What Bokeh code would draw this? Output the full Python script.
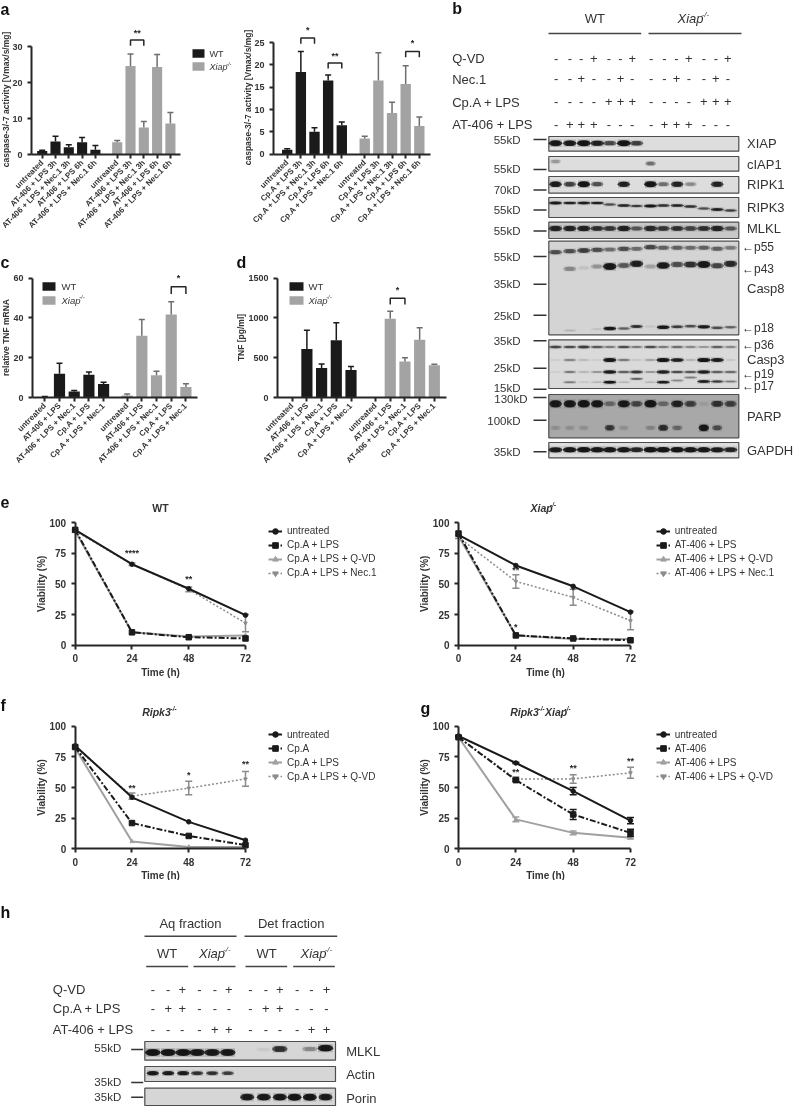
from bokeh.plotting import figure
from bokeh.layouts import column, row
from bokeh.models import Range1d, LinearAxis, FixedTicker, Label, Legend, LegendItem
from bokeh.core.properties import value
from bokeh.embed import file_html
from bokeh.resources import INLINE
import math

# ---------- bar data ----------
a1_labels = ["untreated", "AT-406 + LPS 3h", "AT-406 + LPS + Nec.1 3h", "AT-406 + LPS 6h", "AT-406 + LPS + Nec.1 6h"]
a1_wt = [1, 3.6, 2, 3.4, 1.3]
a1_wt_top = [1.2, 5.1, 2.7, 4.7, 2.5]
a1_xi = [3.4, 24.6, 7.5, 24.3, 8.6]
a1_xi_top = [3.9, 27.9, 9.2, 27.8, 11.7]

a2_labels = ["untreated", "Cp.A + LPS 3h", "Cp.A + LPS + Nec.1 3h", "Cp.A + LPS 6h", "Cp.A + LPS + Nec.1 6h"]
a2_wt = [1, 18.4, 5, 16.5, 6.5]
a2_wt_top = [1.2, 23, 5.9, 17.7, 7.2]
a2_xi = [3.5, 16.5, 9.2, 15.7, 6.3]
a2_xi_top = [4, 22.7, 11.6, 19.8, 8.3]

cd_labels = ["untreated", "AT-406 + LPS", "AT-406 + LPS + Nec.1", "Cp.A + LPS", "Cp.A + LPS + Nec.1"]
c_wt = [0.3, 12, 3, 11.4, 6.8]
c_wt_top = [0.5, 17.2, 3.5, 12.8, 7.7]
c_xi = [1, 31, 11.2, 41.7, 5.3]
c_xi_top = [1.8, 39.2, 13.2, 48.2, 6.9]
d_wt = [0, 610, 370, 720, 345]
d_wt_top = [0, 845, 420, 940, 390]
d_xi = [0, 990, 453, 725, 406]
d_xi_top = [0, 1085, 499, 876, 418]

# ---------- viability data ----------
hours = [0, 24, 48, 72]
e1_untreated = [94, 66, 46, 24.5]
e1_cpa = [94, 10.5, 6.5, 5.5]
e1_qvd = [93, 10.5, 7, 8]
e1_nec = [93, 66, 45.5, 18]
e1_nec_err = [1, 1, 2, 7]
e2_untreated = [90, 65, 48, 27]
e2_at = [91, 8, 5.5, 4]
e2_qvd = [89, 8, 5, 5]
e2_nec = [88, 52, 39, 20]
e2_nec_err = [1, 5.5, 6.5, 7.5]
f_untreated = [84, 42, 22, 7]
f_cpa = [83, 21, 10.5, 3]
f_lps = [82, 6, 1.5, 1.5]
f_qvd = [83, 43, 49.5, 57]
f_qvd_err = [1, 2.5, 5.5, 6]
g_untreated = [92, 70, 47, 23]
g_untreated_err = [0, 0.5, 3, 2.5]
g_at = [91, 56, 28, 13]
g_at_err = [0, 1, 4, 3]
g_lps = [91, 24, 13, 9]
g_lps_err = [0, 2, 1.5, 1]
g_qvd = [91, 57, 57, 62]
g_qvd_err = [0, 1.5, 3.5, 4.5]

# ---------- blot band intensities (one per lane) ----------
xiap_b = [.95, .9, 1, .85, .55, 1, .6, 0, 0, 0, 0, 0, 0, 0]
ciap_b = [.2, 0, 0, 0, 0, 0, 0, .35, 0, 0, 0, 0, 0, 0]
ripk1_b = [.9, .6, 1, .5, 0, .85, 0, 1, .35, .8, .25, 0, .8, 0]
ripk3_b = [.9, .8, .85, .8, .5, .8, .6, .95, .7, .8, .7, .5, .85, .6]
mlkl_b = [.8, .8, .85, .7, .65, .85, .45, .75, .65, .7, .55, .7, .8, .45]
p55_b = [.5, .5, .6, .5, .35, .5, .35, .55, .4, .4, .35, .4, .4, .3]
p43_b = [0, .25, .05, .2, .95, .45, .85, .15, .9, .5, .7, .95, .55, .75]
p18_b = [0, .1, 0, .05, .95, .4, .7, .05, .95, .6, .5, .9, .5, .4]
p36_b = [.55, .5, .6, .45, .3, .5, .3, .5, .3, .35, .25, .2, .4, .25]
c3_b = [.03, .25, .08, .03, .95, .3, .05, .15, 1, .85, .1, 1, .9, .05]
p19_b = [.03, .3, .1, .2, .9, .4, .65, .2, .85, .5, .45, .85, .4, .35]
p17_b = [0, .3, .05, .1, .95, .1, .4, .1, .85, .25, .3, .85, .6, .3]
parp_b = [.95, .95, 1, .95, .3, .9, .5, 1, .3, .8, .55, .05, .65, .55]
parp2_b = [.1, .1, .1, 0, .6, .1, 0, .15, .7, .3, 0, .95, .45, 0]
gapdh_b = [.9, .95, 1, .95, .95, .95, .8, 1, 1, 1, .95, .95, .9, .8]

qvd_signs = "---+--+---+--+"
nec_signs = "--+--+---+--+-"
cpa_signs = "----+++----+++"
at_signs = "-+++----+++---"

h_mlkl = [1, 1, 1, .95, .95, .95, 0, .03, .7, 0, .25, .95]
h_actin = [.95, .9, .9, .7, .7, .6, 0, 0, 0, 0, 0, 0]
h_porin = [0, 0, 0, 0, 0, 0, .9, .95, .95, 1, 1, .9]
h_qvd_signs = "--+--+--+--+"
h_cpa_signs = "-++----++---"
h_at_signs = "----++----++"

# ---------- style ----------
FONT = "Liberation Sans"
DARK = "#262626"
TXT = "#333333"
GREY = "#a3a3a3"
WHISK_G = "#6e6e6e"
DOT_G = "#8c8c8c"


def span(px0, v0, px1, v1, lo, hi):
    s = (v1 - v0) / (px1 - px0)
    return Range1d(v0 + (lo - px0) * s, v0 + (hi - px0) * s)


def fig(W, H, xr, yr):
    p = figure(width=W, height=H, x_range=xr, y_range=yr, x_axis_type=None, y_axis_type=None,
               toolbar_location=None, output_backend="svg", min_border=0, outline_line_color=None)
    p.grid.visible = False
    return p


def txt(p, box, x, y, s, size=9, style="normal", align="left", color=TXT, angle=0, baseline="middle"):
    X0, Y0, W, H = box
    p.add_layout(Label(x=x - X0, y=Y0 + H - y, x_units="screen", y_units="screen", text=s,
                       text_font=FONT, text_font_size=f"{size}px", text_font_style=style,
                       text_align=align, text_baseline=baseline, text_color=color,
                       angle=angle))


def gene(p, box, x, y, parts, size=9, style="italic", color=TXT):
    """italic gene name with a small superscript; x is the left edge"""
    cw = 0.53 * size
    for name in parts:
        txt(p, box, x, y, name, size, style, color=color)
        x += cw * len(name) * (1.02 if name.startswith("Ripk") else 0.88)
        txt(p, box, x, y - size * 0.32, "-/-", size * 0.6, style, color=color)
        x += size * 0.6 * 1.02


def style_axis(ax, size):
    ax.axis_line_color = DARK
    ax.axis_line_width = 2
    ax.major_tick_line_color = DARK
    ax.major_tick_line_width = 2
    ax.major_tick_in = 0
    ax.major_tick_out = 4
    ax.minor_tick_line_color = None
    ax.major_label_text_font = FONT
    ax.major_label_text_font_style = "bold"
    ax.major_label_text_font_size = f"{size}px"
    ax.major_label_text_color = TXT


def bar_panel(box, ax_l, ax_r, first, step, gap, ytop_px, y0_px, ymax, yticks, labels,
              wt, wt_top, xi, xi_top, brackets, ylabel, ylabel_x, ylabel_y):
    X0, Y0, W, H = box
    xlo = (ax_l - first) / step
    xhi = (ax_r - first) / step
    p = fig(W, H, span(first, 0, first + step, 1, X0, X0 + W), span(y0_px, 0, ytop_px, ymax, Y0 + H, Y0))
    pos = list(range(5))
    pos2 = [round(gap + i, 2) for i in range(5)]
    p.vbar(x=pos, top=wt, width=0.76, fill_color="#1a1a1a", line_color=None)
    p.vbar(x=pos2, top=xi, width=0.76, fill_color=GREY, line_color=None)
    for xs, v, t, c in ((pos, wt, wt_top, "#1a1a1a"), (pos2, xi, xi_top, WHISK_G)):
        xe = [a for a, b, d in zip(xs, v, t) if d > b]
        p.segment(x0=xe, x1=xe, y0=[b for b, d in zip(v, t) if d > b], y1=[d for b, d in zip(v, t) if d > b],
                  line_color=c, line_width=1.5)
        p.scatter(x=xe, y=[d for b, d in zip(v, t) if d > b], marker="dash", size=6, line_color=c, line_width=1.5)
    allpos = pos + pos2
    for i, j, top, leg, star, sy in brackets:
        p.line(x=[allpos[i], allpos[i], allpos[j], allpos[j]], y=[leg, top, top, leg], line_color=DARK, line_width=1.5)
        p.text(x=[(allpos[i] + allpos[j]) / 2], y=[sy], text=[star], text_font=value(FONT), text_font_size="9px",
               text_font_style="bold", text_align="center", text_baseline="middle", text_color=DARK)
    ya = LinearAxis(fixed_location=xlo, bounds=(0, ymax), ticker=FixedTicker(ticks=yticks))
    style_axis(ya, 9)
    p.add_layout(ya, "left")
    xa = LinearAxis(fixed_location=0, bounds=(xlo, xhi), ticker=FixedTicker(ticks=allpos),
                    major_label_overrides={float(k): l for k, l in zip(allpos, labels + labels)},
                    major_label_orientation=math.pi / 4)
    style_axis(xa, 8)
    xa.major_label_standoff = 3
    p.add_layout(xa, "below")
    txt(p, box, ylabel_x, ylabel_y, ylabel, 8.5, "bold", "center", angle=math.pi / 2)
    return p


def bar_legend(p, box, x0, x1, y1, y2, h, tx, size=9):
    xm = (x0 + x1) / 2
    xr = p.x_range
    yr = p.y_range
    sx = (xr.end - xr.start) / box[2]
    sy = (yr.end - yr.start) / box[3]
    for y, c in ((y1, "#1a1a1a"), (y2, GREY)):
        dx = xr.start + (xm - box[0]) * sx
        dy = yr.end - (y - box[1]) * sy
        p.rect(x=[dx], y=[dy], width=(x1 - x0) * sx, height=h * abs(sy), fill_color=c, line_color=None)
    txt(p, box, tx, y1, "WT", size)
    gene(p, box, tx, y2, ["Xiap"], size)


BOX_A1 = (0, 0, 235, 230)
a1 = bar_panel(BOX_A1, 31, 180, 41.7, 13.3, 5.64, 46, 154, 30, [0, 10, 20, 30], a1_labels,
               a1_wt, a1_wt_top, a1_xi, a1_xi_top, [(6, 7, 31.8, 30.2, "**", 33.7)],
               "caspase-3/-7 activity [Vmax/s/mg]", 5, 99)
bar_legend(a1, BOX_A1, 192, 204, 53, 66, 8.5, 209)
txt(a1, BOX_A1, 0, 9, "a", 16, "bold", color="#111111")

BOX_A2 = (235, 0, 215, 230)
a2 = bar_panel(BOX_A2, 273, 430, 286.7, 13.65, 5.68, 42, 153.7, 25, [0, 5, 10, 15, 20, 25], a2_labels,
               a2_wt, a2_wt_top, a2_xi, a2_xi_top,
               [(1, 2, 26, 24.7, "*", 27.8), (3, 4, 20.4, 19.2, "**", 22), (8, 9, 23, 21.7, "*", 24.8)],
               "caspase-3/-7 activity [Vmax/s/mg]", 247, 97)

BOX_C = (0, 230, 236, 260)
c = bar_panel(BOX_C, 32, 197, 44.3, 14.7, 5.6, 277.7, 397, 60, [0, 20, 40, 60], cd_labels,
              c_wt, c_wt_top, c_xi, c_xi_top, [(8, 9, 55.7, 52, "*", 60)],
              "relative TNF mRNA", 5, 337)
bar_legend(c, BOX_C, 42, 55, 286, 300, 8.5, 61, 9.5)
txt(c, BOX_C, 0, 262, "c", 16, "bold", color="#111111")

BOX_D = (236, 230, 214, 260)
d = bar_panel(BOX_D, 277, 446, 291.7, 14.7, 5.67, 277.7, 397, 1500, [0, 500, 1000, 1500], cd_labels,
              d_wt, d_wt_top, d_xi, d_xi_top, [(6, 7, 1249, 1170, "*", 1350)],
              "TNF [pg/ml]", 240.7, 337)
bar_legend(d, BOX_D, 289, 303, 286, 300, 8.5, 308, 9.5)
txt(d, BOX_D, 236, 262, "d", 16, "bold", color="#111111")


# ---------- line panels ----------
def line_panel(box, ax_x, ax_x72, ytop, y0, series, stars, ylabel_x, xlabel_x, xlabel_y, legend_x):
    X0, Y0, W, H = box
    p = fig(W, H, span(ax_x, 0, ax_x72, 72, X0, X0 + W), span(y0, 0, ytop, 100, Y0 + H, Y0))
    items = []
    for name, vals, err, color, width, dash, marker, msize in reversed(series):
        ln = p.line(x=hours, y=vals, line_color=color, line_width=width, line_dash=dash)
        mk = p.scatter(x=hours, y=vals, marker=marker, size=msize, fill_color=color, line_color=color)
        if err:
            lo = [v - e for v, e in zip(vals, err)]
            hi = [v + e for v, e in zip(vals, err)]
            p.segment(x0=hours, x1=hours, y0=lo, y1=hi, line_color=color, line_width=1.5)
            p.scatter(x=hours + hours, y=lo + hi, marker="dash", size=7, line_color=color, line_width=1.5)
        items.insert(0, LegendItem(label=name, renderers=[ln, mk]))
    for sx, sy, s in stars:
        p.text(x=[sx], y=[sy], text=[s], text_font=value(FONT), text_font_size="9px", text_font_style="bold",
               text_align="center", text_baseline="middle", text_color=DARK)
    ya = LinearAxis(fixed_location=0, bounds=(0, 100), ticker=FixedTicker(ticks=[0, 25, 50, 75, 100]))
    xa = LinearAxis(fixed_location=0, bounds=(0, 72), ticker=FixedTicker(ticks=hours))
    for ax in (ya, xa):
        style_axis(ax, 10)
    p.add_layout(ya, "left")
    p.add_layout(xa, "below")
    txt(p, box, ylabel_x, (ytop + y0) / 2, "Viability (%)", 10, "bold", "center", angle=math.pi / 2)
    txt(p, box, xlabel_x, xlabel_y, "Time (h)", 10, "bold", "center")
    leg_top = ytop + 1.5
    leg = Legend(items=items, location=(legend_x - X0, Y0 + H - leg_top - 8 * 14 / 2 - 0),
                 border_line_color=None, background_fill_alpha=0, padding=0, margin=0, spacing=0,
                 glyph_width=14, glyph_height=14, label_height=14, label_standoff=5,
                 label_text_font=FONT, label_text_font_size="10px", label_text_color=TXT)
    p.add_layout(leg, "center")
    return p


BLACK = "#1a1a1a"
LG = "#a0a0a0"
def series(names, vals, errs):
    sty = [(BLACK, 2, "solid", "circle", 4.5), (BLACK, 2, "6 2 2 2", "square", 5.5),
           (LG, 2, "solid", "triangle", 4), (DOT_G, 1.5, "2 2", "inverted_triangle", 3.5)]
    return [(n, v, e) + s for n, v, e, s in zip(names, vals, errs, sty)]


BOX_E1 = (0, 490, 393, 190)
e1 = line_panel(BOX_E1, 74.7, 245, 522, 644.7,
                series(["untreated", "Cp.A + LPS", "Cp.A + LPS + Q-VD", "Cp.A + LPS + Nec.1"],
                       [e1_untreated, e1_cpa, e1_qvd, e1_nec], [None, None, None, e1_nec_err]),
                [(24, 75, "****"), (48, 54, "**")], 41, 160, 672, 268)
txt(e1, BOX_E1, 160, 507, "WT", 10.5, "bold", "center")
txt(e1, BOX_E1, 0, 501.7, "e", 16, "bold", color="#111111")

BOX_E2 = (393, 490, 400, 190)
e2 = line_panel(BOX_E2, 458, 630, 522, 644.7,
                series(["untreated", "AT-406 + LPS", "AT-406 + LPS + Q-VD", "AT-406 + LPS + Nec.1"],
                       [e2_untreated, e2_at, e2_qvd, e2_nec], [None, None, None, e2_nec_err]),
                [(24, 61, "**"), (24, 14.5, "*"), (48, 45, "*")], 424, 545, 672, 655.7)
gene(e2, BOX_E2, 530, 507, ["Xiap"], 10.5, "bold italic")

BOX_F = (0, 680, 393, 200)
f = line_panel(BOX_F, 74.7, 245, 725.7, 848.3,
               series(["untreated", "Cp.A", "Cp.A + LPS", "Cp.A + LPS + Q-VD"],
                      [f_untreated, f_cpa, f_lps, f_qvd], [None, None, None, f_qvd_err]),
               [(24, 50, "**"), (48, 60, "*"), (72, 69, "**")], 41, 160, 875, 268)
gene(f, BOX_F, 141.7, 711, ["Ripk3"], 10.5, "bold italic")
txt(f, BOX_F, 0, 705, "f", 16, "bold", color="#111111")

BOX_G = (393, 680, 400, 200)
g = line_panel(BOX_G, 458, 630, 725.7, 848.3,
               series(["untreated", "AT-406", "AT-406 + LPS", "AT-406 + LPS + Q-VD"],
                      [g_untreated, g_at, g_lps, g_qvd], [g_untreated_err, g_at_err, g_lps_err, g_qvd_err]),
               [(24, 63, "**"), (48, 66, "**"), (72, 72, "**")], 424, 545, 875, 655.7)
gene(g, BOX_G, 509.7, 711, ["Ripk3", "Xiap"], 10.5, "bold italic")
txt(g, BOX_G, 420, 708, "g", 16, "bold", color="#111111")


# ---------- blots ----------
def blot_fig(box):
    X0, Y0, W, H = box
    return fig(W, H, Range1d(X0, X0 + W), Range1d(Y0 + H, Y0))


def blot_box(p, l, r, t, b, bg="#d9d9d9"):
    p.quad(left=[l], right=[r], top=[t], bottom=[b], fill_color=bg, line_color="#4d4d4d", line_width=1.2)


def bands(p, lanes, ys, vals, w=10.5, h=4.5):
    if not isinstance(ys, (list, tuple)):
        ys = [ys] * len(lanes)
    xs = [x for x, v in zip(lanes, vals) if v > 0]
    yy = [y for y, v in zip(ys, vals) if v > 0]
    vv = [v for v in vals if v > 0]
    hh = [h * (0.55 + 0.45 * v) for v in vv]
    p.rect(x=xs, y=yy, width=[w + 1.5] * len(xs), height=[k + 1.5 for k in hh],
           fill_color="#333333", fill_alpha=[0.25 * v for v in vv], line_color=None)
    p.ellipse(x=xs, y=yy, width=[w + 2.5] * len(xs), height=hh,
              fill_color="#111111", fill_alpha=[v * 0.9 for v in vv], line_color=None)
    p.rect(x=xs, y=yy, width=[w * 0.75] * len(xs), height=[k * 0.8 for k in hh],
           fill_color="#111111", fill_alpha=[v * 0.75 for v in vv], line_color=None)


def signs(p, box, xs, y, pattern, size=13):
    for x, s in zip(xs, pattern):
        txt(p, box, x, y, s, size, "normal", "center", color=TXT)


BOX_B = (450, 0, 343, 490)
b = blot_fig(BOX_B)
L, R = 548.3, 738.3
lanes_b = [555, 569.3, 583.3, 596.7, 609.3, 623.3, 636, 650, 662.7, 676.7, 690, 703.3, 716.7, 730]
sign_x = [555.7, 569.3, 580.7, 593.3, 608.3, 620, 631.7, 650.7, 664, 676, 688.3, 703.3, 715.3, 727.3]

txt(b, BOX_B, 451.7, 8, "b", 16, "bold", color="#111111")
txt(b, BOX_B, 594.3, 18, "WT", 13, align="center")
gene(b, BOX_B, 677, 18, ["Xiap"], 13)
b.segment(x0=[548, 648], x1=[640.7, 741], y0=[33, 33], y1=[33, 33], line_color="#444444", line_width=1.5)
for lab, y, pat in (("Q-VD", 58, qvd_signs), ("Nec.1", 78.5, nec_signs),
                    ("Cp.A + LPS", 101.7, cpa_signs), ("AT-406 + LPS", 124, at_signs)):
    txt(b, BOX_B, 451.7, y, lab, 13)
    signs(b, BOX_B, sign_x, y - 0.5, pat)

for t_, b_, bg in ((136, 150.7, "#dddddd"), (156, 170.7, "#dddddd"), (176, 192.7, "#dddddd"),
                   (197, 217, "#d5d5d5"), (221.7, 238, "#c8c8c8"), (240.7, 334.3, "#d4d4d4"),
                   (339.3, 388, "#dadada"), (394, 437.3, "#a8a8a8"), (442, 457.3, "#dddddd")):
    blot_box(b, L, R, t_, b_, bg)

bands(b, lanes_b, 142.7, xiap_b, 11, 6)
bands(b, lanes_b, [161] * 7 + [163] * 7, ciap_b, 8, 6)
bands(b, lanes_b, 183.7, ripk1_b, 10, 6)
bands(b, lanes_b, [202.5, 202.5, 202.5, 202.5, 204, 205, 205.5, 205.5, 205, 205, 206, 208, 209, 210], ripk3_b, 11, 3)
bands(b, lanes_b, 228, mlkl_b, 11, 6)
bands(b, lanes_b, [251.7, 250.7, 250, 249.3, 249, 248.3, 248.3, 246.7, 247.3, 247.3, 247.3, 247.3, 248.3, 247.3], p55_b, 11, 6)
bands(b, lanes_b, [268.3, 268.3, 267.3, 266, 266, 265, 263.3, 266, 265, 264, 264, 264, 265.3, 263.3], p43_b, 11, 7)
bands(b, lanes_b, [330, 330, 329, 328.5, 328, 328, 326, 326, 326.7, 326.3, 325.7, 326.3, 327.3, 326.7], p18_b, 10.5, 3.5)
bands(b, lanes_b, 346.5, p36_b, 11, 3.5)
bands(b, lanes_b, 359.5, c3_b, 11, 4)
bands(b, lanes_b, 371.5, p19_b, 11, 3.5)
bands(b, lanes_b, [381.7] * 6 + [378.3, 381.7, 381.7, 380, 377, 381, 381, 381], p17_b, 11, 3)
bands(b, lanes_b, 403.3, parp_b, 10, 7.5)
bands(b, lanes_b, 427.3, parp2_b, 8, 7)
bands(b, lanes_b, 449.3, gapdh_b, 11.5, 5.5)

kd_labels = ["55kD", "55kD", "70kD", "55kD", "55kD", "55kD", "35kD", "25kD", "35kD", "25kD", "15kD", "130kD", "100kD", "35kD"]
kd_label_y = [139, 168.7, 189, 209, 230.7, 256, 283.7, 315, 340, 367.7, 387.5, 398, 420, 451]
kd_tick_y = [139, 169, 189.5, 209.5, 230.5, 256, 283.7, 314.7, 340.3, 367.7, 388.7, 397, 419.7, 451.3]
for lab, y in zip(kd_labels, kd_label_y):
    txt(b, BOX_B, 527 if lab in ("130kD",) else 520, y, lab, 11.5, align="right")
b.segment(x0=[533] * len(kd_tick_y), x1=[546] * len(kd_tick_y), y0=kd_tick_y, y1=kd_tick_y, line_color="#333333", line_width=1.5)

for lab, y in (("XIAP", 143), ("cIAP1", 164), ("RIPK1", 184), ("RIPK3", 207), ("MLKL", 228),
               ("Casp8", 288), ("Casp3", 359), ("PARP", 416), ("GAPDH", 450)):
    txt(b, BOX_B, 746.5, y, lab, 13)
for lab, y in (("\u2190p55", 246), ("\u2190p43", 268), ("\u2190p18", 327.7), ("\u2190p36", 344.7),
               ("\u2190p19", 373), ("\u2190p17", 385)):
    txt(b, BOX_B, 741.5, y, lab, 12)

BOX_H = (0, 880, 793, 226)
h = blot_fig(BOX_H)
txt(h, BOX_H, 0, 911.7, "h", 16, "bold", color="#111111")
txt(h, BOX_H, 190, 922.7, "Aq fraction", 13, align="center")
txt(h, BOX_H, 290.7, 922.7, "Det fraction", 13, align="center")
h.segment(x0=[144, 244, 145.7, 193, 245, 292.7], x1=[236, 336.7, 187.7, 235, 286.7, 334.3],
          y0=[935.7, 935.7, 966, 966, 966, 966], y1=[935.7, 935.7, 966, 966, 966, 966],
          line_color="#444444", line_width=1.5)
txt(h, BOX_H, 166.7, 953, "WT", 13, align="center")
txt(h, BOX_H, 266, 953, "WT", 13, align="center")
gene(h, BOX_H, 198.5, 953, ["Xiap"], 13)
gene(h, BOX_H, 300, 953, ["Xiap"], 13)
h_sign_x = [152.3, 167.7, 181.7, 199, 214.3, 228.3, 250, 265.3, 279.3, 296.7, 311, 326]
for lab, y, pat in (("Q-VD", 989, h_qvd_signs), ("Cp.A + LPS", 1008.3, h_cpa_signs), ("AT-406 + LPS", 1029, h_at_signs)):
    txt(h, BOX_H, 52.3, y, lab, 13)
    signs(h, BOX_H, h_sign_x, y - 0.5, pat)
h_l, h_r = 144.3, 335
for t_, b_ in ((1041, 1059.7), (1066, 1081), (1087.7, 1105)):
    blot_box(h, h_l, h_r, t_, b_, "#d6d6d6")
h_lanes = [152.3, 167.7, 182.7, 196.7, 211.7, 227.3, 246.7, 263.3, 279.3, 294, 309.3, 325]
bands(h, h_lanes, [1052] * 6 + [1049, 1049, 1048.5, 1049, 1048.5, 1047.7], h_mlkl, 13, 7)
bands(h, h_lanes, 1072.7, h_actin, 10, 4.5)
bands(h, h_lanes, 1096.7, h_porin, 11.5, 7)
for lab, y in (("55kD", 1047.7), ("35kD", 1081.7), ("35kD", 1096.7)):
    txt(h, BOX_H, 120.7, y, lab, 11.5, align="right")
h.segment(x0=[130.7] * 3, x1=[142.7] * 3, y0=[1049, 1082, 1096.7], y1=[1049, 1082, 1096.7], line_color="#333333", line_width=1.5)
for lab, y in (("MLKL", 1051), ("Actin", 1074), ("Porin", 1098)):
    txt(h, BOX_H, 345.7, y, lab, 13)

page = column(
    row(column(row(a1, a2, spacing=0), row(c, d, spacing=0), spacing=0), b, spacing=0),
    row(e1, e2, spacing=0),
    row(f, g, spacing=0),
    h,
    spacing=0,
    styles={"filter": "blur(0.45px)"},
)

open("out.html", "w").write(file_html(page, INLINE))
